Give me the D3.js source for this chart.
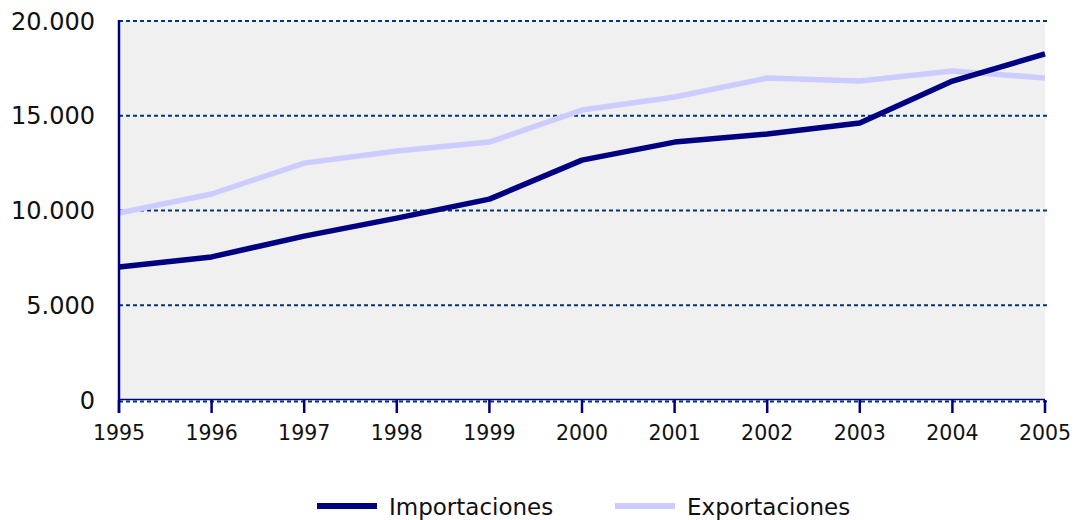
<!DOCTYPE html>
<html>
<head>
<script src="https://cdn.jsdelivr.net/npm/d3@7"></script>
<style>
  body { margin: 0; background: #fff; }
  text { font-family: "DejaVu Sans", Verdana, sans-serif; }
</style>
</head>
<body>
<div id="vis"></div>
<script>
const years = [1995, 1996, 1997, 1998, 1999, 2000, 2001, 2002, 2003, 2004, 2005];
const importaciones = [7020, 7550, 8650, 9600, 10600, 12660, 13610, 14040, 14620, 16830, 18260];
const exportaciones = [9870, 10870, 12500, 13140, 13610, 15300, 15990, 16990, 16830, 17360, 16990];
const yTicks = [0, 5000, 10000, 15000, 20000];
const seriesNames = ["Importaciones", "Exportaciones"];
const seriesColors = ["#000080", "#ccccff"];

const W = 1075, H = 520;
const svg = d3.select("#vis").append("svg").attr("width", W).attr("height", H);

const x = d3.scaleLinear().domain([1995, 2005]).range([119, 1045]);
const y = d3.scaleLinear().domain([0, 20000]).range([400, 21]);
const fmt = v => d3.format(",")(v).replace(/,/g, ".");

// plot background
svg.append("rect")
  .attr("x", x(1995)).attr("y", y(20000))
  .attr("width", x(2005) - x(1995)).attr("height", y(0) - y(20000))
  .attr("fill", "#f0f0f0");

// dashed gridlines
svg.append("g").selectAll("line")
  .data(yTicks)
  .join("line")
  .attr("x1", x(1995)).attr("x2", 1049)
  .attr("y1", d => d === 0 ? y(d) + 1.5 : y(d))
  .attr("y2", d => d === 0 ? y(d) + 1.5 : y(d))
  .attr("stroke", "#003873")
  .attr("stroke-width", 2)
  .attr("stroke-dasharray", "4,3");

// y tick labels
svg.append("g").selectAll("text")
  .data(yTicks)
  .join("text")
  .attr("x", 95).attr("y", d => y(d))
  .attr("dy", "0.36em")
  .attr("text-anchor", "end")
  .attr("font-size", 24)
  .attr("fill", "#111")
  .text(fmt);

// series lines
const line = d3.line().x((d, i) => x(years[i])).y(d => y(d));
[exportaciones, importaciones].forEach((s, k) => {
  svg.append("path")
    .datum(s)
    .attr("d", line)
    .attr("fill", "none")
    .attr("stroke", seriesColors[1 - k])
    .attr("stroke-width", 5.5)
    .attr("stroke-linejoin", "round");
});

// axes
svg.append("line")
  .attr("x1", x(1995)).attr("x2", x(1995))
  .attr("y1", y(20000) - 1).attr("y2", 413)
  .attr("stroke", "#000080").attr("stroke-width", 2.5);
svg.append("line")
  .attr("x1", x(1995)).attr("x2", x(2005))
  .attr("y1", y(0) - 0.5).attr("y2", y(0) - 0.5)
  .attr("stroke", "#000080").attr("stroke-width", 1.5);
svg.append("g").selectAll("line")
  .data(years)
  .join("line")
  .attr("x1", d => x(d)).attr("x2", d => x(d))
  .attr("y1", y(0)).attr("y2", 413)
  .attr("stroke", "#000080").attr("stroke-width", 2.5);
svg.append("g").selectAll("text")
  .data(years)
  .join("text")
  .attr("x", d => x(d)).attr("y", 440)
  .attr("text-anchor", "middle")
  .attr("font-size", 20.5)
  .attr("fill", "#111")
  .text(d => d);

// legend
const legendX = [317, 615];
seriesNames.forEach((n, k) => {
  svg.append("rect")
    .attr("x", legendX[k]).attr("y", 503)
    .attr("width", 60).attr("height", 6)
    .attr("fill", seriesColors[k]);
  svg.append("text")
    .attr("x", legendX[k] + 72).attr("y", 515)
    .attr("font-size", 23)
    .attr("fill", "#111")
    .text(n);
});
</script>
</body>
</html>
